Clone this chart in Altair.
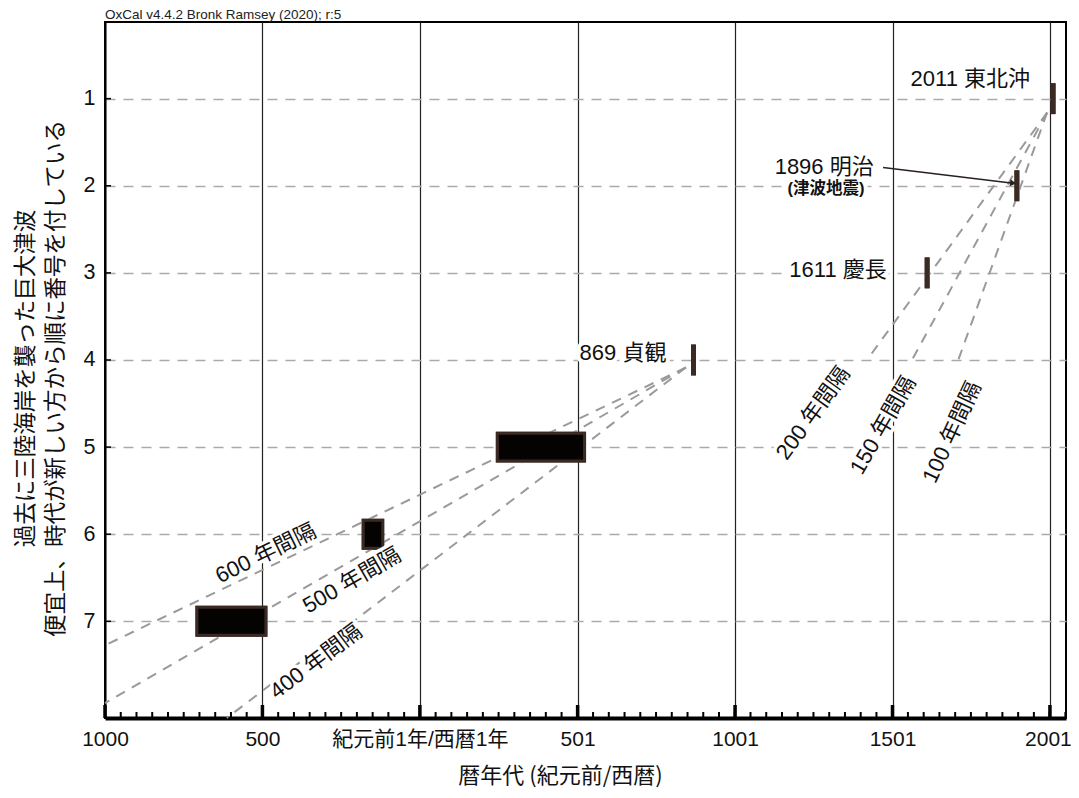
import altair as alt
import pandas as pd

# ---------------- data ----------------
# x axis (calendar years, negative = BC)
tick_values = [-1000, -500, 0, 501, 1001, 1501, 2001]
tick_labels = ["1000", "500", "紀元前1年/西暦1年", "501", "1001", "1501", "2001"]
minor_tick_years = list(range(-1000, 2051, 50))

# y axis (tsunami number, newest = 1)
row_values = [1, 2, 3, 4, 5, 6, 7]

# calibrated date ranges of each tsunami
event_index = [1, 2, 3, 4, 5, 6, 7]
event_start = [2008, 1893, 1608, 866, 246, -180, -708]
event_end = [2014, 1899, 1614, 872, 523, -118, -489]

# event labels
label_text = ["2011 東北沖", "1896 明治", "(津波地震)", "1611 慶長", "869 貞観"]
label_year = [1748, 1284, 1290, 1328, 645]
label_row = [0.77, 1.79, 2.04, 2.97, 3.92]
label_size = [22, 22, 16.5, 22, 22]
label_weight = ["normal", "normal", "bold", "normal", "normal"]

# dashed interval guide lines (start / end)
guide_name = ["600", "500", "400", "200", "150", "100"]
guide_x1 = [845, 845, 845, 1992, 1992, 1992]
guide_y1 = [4.086, 4.086, 4.086, 1.16, 1.16, 1.16]
guide_x2 = [-1000, -1000, -613, 1420, 1563, 1710]
guide_y2 = [7.275, 7.94, 8.11, 4.0, 4.0, 4.0]

# guide labels
guide_label = ["600 年間隔", "500 年間隔", "400 年間隔", "200 年間隔", "150 年間隔", "100 年間隔"]
guide_label_year = [-489, -216, -330, 1249, 1471, 1690]
guide_label_row = [6.22, 6.53, 7.46, 4.61, 4.75, 4.83]
guide_label_angle = [334, 330, 323, 306, 300, 295]

# arrow 1896 label -> box
arrow_year = [1471, 1884]
arrow_row = [1.79, 1.97]

oxcal_text = "OxCal v4.4.2 Bronk Ramsey (2020); r:5"
x_title = "暦年代 (紀元前/西暦)"
y_title = ["過去に三陸海岸を襲った巨大津波", "便宜上、時代が新しい方から順に番号を付している"]

# ---------------- build ----------------
W, H = 961, 696
FONT = "Liberation Sans, Noto Sans CJK JP, sans-serif"
JFONT = "Noto Sans CJK JP, sans-serif"
HALF = 0.16

xscale = alt.Scale(domain=[-1000, 2052], nice=False, zero=False)
yscale = alt.Scale(domain=[0.12, 8.11], reverse=True, nice=False, zero=False)

expr = "''"
for v, l in reversed(list(zip(tick_values, tick_labels))):
    expr = f"datum.value == {v} ? '{l}' : ({expr})"

events = pd.DataFrame({
    "idx": event_index,
    "start": event_start,
    "end": event_end,
})
events["y1"] = events["idx"] - HALF
events["y2"] = events["idx"] + HALF

x_axis = alt.Axis(
    values=tick_values, labelExpr=expr, grid=True, gridColor="#222", gridWidth=1.2,
    ticks=False, domain=True, domainColor="#000", domainWidth=4,
    labelFont=FONT, labelFontSize=21, labelColor="#111", labelPadding=10,
    labelFlush=False, labelOverlap=False, labelLimit=0,
    labelOffset={"condition": {"test": f"datum.value == {tick_values[-1]}", "value": -2},
                 "value": 0},
    title=x_title, titleFont=JFONT, titleFontSize=22, titleFontWeight="normal",
    titleColor="#111", titleX=455, titleY=47, titleAlign="center", titleBaseline="top",
)
y_axis = alt.Axis(
    values=row_values, format="d", grid=True, gridColor="#aaa", gridDash=[10, 8],
    gridWidth=1.5, ticks=False, domain=True, domainColor="#000", domainWidth=2,
    labelFont=FONT, labelFontSize=21.5, labelColor="#111", labelPadding=10,
    labelFlush=False, labelOverlap=False,
    title=y_title, titleFont=JFONT, titleFontSize=22.5, titleFontWeight="normal",
    titleColor="#111", titleLineHeight=30, titleAngle=270, titleX=-91, titleY=356,
    titleAlign="center", titleBaseline="top",
)

boxes = alt.Chart(events).mark_rect(
    fill="#050202", stroke="#3b2a24", strokeWidth=3
).encode(
    x=alt.X("start:Q", scale=xscale, axis=x_axis),
    x2="end:Q",
    y=alt.Y("y1:Q", scale=yscale, axis=y_axis),
    y2="y2:Q",
)

rows = []
for n, a, b, c, d in zip(guide_name, guide_x1, guide_y1, guide_x2, guide_y2):
    rows.append({"g": n, "o": 0, "x": a, "y": b})
    rows.append({"g": n, "o": 1, "x": c, "y": d})
guides = alt.Chart(pd.DataFrame(rows)).mark_line(
    color="#9a9a9a", strokeWidth=2, strokeDash=[10, 8]
).encode(
    x=alt.X("x:Q", scale=xscale),
    y=alt.Y("y:Q", scale=yscale),
    detail="g:N",
    order="o:Q",
)

minor = alt.Chart(pd.DataFrame({"x": minor_tick_years})).mark_rule(
    color="#000", strokeWidth=2
).encode(
    x=alt.X("x:Q", scale=xscale),
    y=alt.value(H), y2=alt.value(H - 6),
)
major = alt.Chart(pd.DataFrame({"x": tick_values})).mark_rule(
    color="#000", strokeWidth=3.5
).encode(
    x=alt.X("x:Q", scale=xscale),
    y=alt.value(H), y2=alt.value(H - 13),
)
yticks = alt.Chart(pd.DataFrame({"y": row_values})).mark_rule(
    color="#000", strokeWidth=1.5
).encode(
    y=alt.Y("y:Q", scale=yscale),
    x=alt.value(0), x2=alt.value(6),
)

arrow_df = pd.DataFrame({"x": arrow_year, "y": arrow_row, "o": [0, 1]})
arrow_line = alt.Chart(arrow_df).mark_line(color="#2a2020", strokeWidth=1.5).encode(
    x=alt.X("x:Q", scale=xscale),
    y=alt.Y("y:Q", scale=yscale),
    order="o:Q",
)
arrow_head = alt.Chart(arrow_df.iloc[[1]]).mark_point(
    shape="triangle-right", angle=7, size=50, filled=True, color="#2a2020", opacity=1
).encode(
    x=alt.X("x:Q", scale=xscale),
    y=alt.Y("y:Q", scale=yscale),
)

labels_df = pd.DataFrame({
    "t": label_text, "x": label_year, "y": label_row,
    "s": label_size, "w": label_weight,
})


def label_layer(halo, weight):
    kw = dict(font=FONT, align="center", baseline="middle", fontWeight=weight)
    if halo:
        kw.update(stroke="white", strokeWidth=8, strokeJoin="round", fill="white")
    else:
        kw.update(fill="#111")
    sub = labels_df[labels_df["w"] == weight]
    return alt.Chart(sub).mark_text(**kw).encode(
        x=alt.X("x:Q", scale=xscale),
        y=alt.Y("y:Q", scale=yscale),
        text="t:N",
        size=alt.Size("s:Q", scale=None, legend=None),
    )


glabels_df = pd.DataFrame({
    "t": guide_label, "x": guide_label_year, "y": guide_label_row, "a": guide_label_angle,
})


def glabel_layer(halo):
    kw = dict(font=FONT, align="center", baseline="middle", fontSize=22)
    if halo:
        kw.update(stroke="white", strokeWidth=7, strokeJoin="round", fill="white")
    else:
        kw.update(fill="#111")
    return alt.Chart(glabels_df).mark_text(**kw).encode(
        x=alt.X("x:Q", scale=xscale),
        y=alt.Y("y:Q", scale=yscale),
        text="t:N",
        angle=alt.Angle("a:Q", scale=None),
    )


oxcal = alt.Chart(pd.DataFrame({"t": [oxcal_text]})).mark_text(
    font="Liberation Sans, sans-serif", fontSize=13.5, align="left", baseline="alphabetic",
    fill="#222",
).encode(
    x=alt.value(0), y=alt.value(-3), text="t:N",
)

chart = alt.layer(
    boxes, guides, minor, major, yticks, boxes,
    arrow_line, arrow_head,
    glabel_layer(True), glabel_layer(False),
    label_layer(True, "normal"), label_layer(True, "bold"),
    label_layer(False, "normal"), label_layer(False, "bold"),
    oxcal,
).properties(
    width=W, height=H,
    autosize=alt.AutoSizeParams(type="none"),
    padding={"left": 97, "top": 14, "right": 5, "bottom": 72},
).configure_view(
    stroke="#000", strokeWidth=2,
)

chart.save("out.html", embed_options={"renderer": "svg", "actions": False})
